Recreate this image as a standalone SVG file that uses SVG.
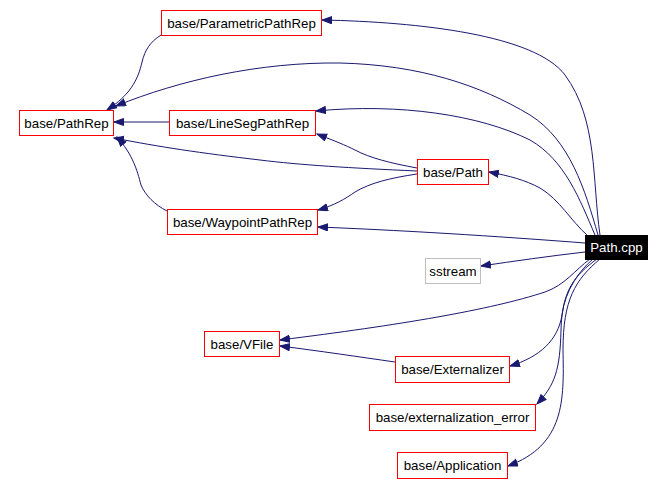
<svg xmlns="http://www.w3.org/2000/svg" width="664" height="483" viewBox="0 0 664 483">
<defs>
<marker id="arr" markerUnits="userSpaceOnUse" markerWidth="12" markerHeight="10" refX="10" refY="4" orient="auto">
<path d="M0.5,0.5 L10,4 L0.5,7.5 z" fill="#191970" stroke="#191970" stroke-width="1"/>
</marker>
<style>
.n rect{fill:#fff;stroke:#ff0000;stroke-width:1}
.n text{font-family:"Liberation Sans",Arial,sans-serif;font-size:13.3px;text-anchor:middle;fill:#000}
.g rect{stroke:#bfbfbf}
.b rect{fill:#000;stroke:#000}
.b text{fill:#fff}
.e path{fill:none;stroke:#191970;stroke-width:1;marker-end:url(#arr)}
</style>
</defs>
<rect width="664" height="483" fill="#fff"/>
<g id="edges" class="e">
<path d="M600,235 C592,180 598,120 565,75 C535,35 420,22 322,20"/>
<path d="M598,235 C585,190 570,140 530,115 C480,85 420,65 340,63 C260,62 180,80 116,106"/>
<path d="M595,235 C580,200 565,160 530,140 C480,115 400,103 316,111"/>
<path d="M417,168 C390,163 370,158 355,150 C345,145 335,141 317,134"/>
<path d="M417,171 C350,168 300,165 260,160 C200,153 160,147 114,138"/>
<path d="M417,174 C390,178 370,183 355,192 C345,199 335,205 318,210"/>
<path d="M588,236 C570,220 560,200 540,188 C525,180 510,176 489,172"/>
<path d="M585,243 C520,238 420,231 318,227"/>
<path d="M585,252 C550,256 515,261 481,266"/>
<path d="M590,259 C575,270 565,285 545,292 C490,310 400,325 280,340"/>
<path d="M395,362 C360,357 320,351 280,346"/>
<path d="M593,259 C580,270 565,290 562,315 C558,340 540,357 510,366"/>
<path d="M597,259 C575,275 562,290 561,330 C560,370 555,385 537,404"/>
<path d="M600,259 C575,280 563,300 563,350 C564,400 565,445 508,466"/>
<path d="M161,35 C150,42 145,50 142,62 C138,80 130,95 107,110"/>
<path d="M169,122 L114,122"/>
<path d="M167,211 C155,205 145,195 141,185 C137,170 133,155 117,137"/>
</g>
<g id="node_parametric" class="n"><rect x="161.5" y="10.5" width="160" height="25"/><text x="241.5" y="27.5">base/ParametricPathRep</text></g>
<g id="node_pathrep" class="n"><rect x="19.5" y="110.5" width="94" height="25"/><text x="66.5" y="127.5">base/PathRep</text></g>
<g id="node_lineseg" class="n"><rect x="169.5" y="110.5" width="146" height="25"/><text x="242.5" y="127.5">base/LineSegPathRep</text></g>
<g id="node_waypoint" class="n"><rect x="167.5" y="209.5" width="150" height="25"/><text x="242.5" y="226.5">base/WaypointPathRep</text></g>
<g id="node_path" class="n"><rect x="417.5" y="159.5" width="71" height="25"/><text x="453" y="176.5">base/Path</text></g>
<g id="node_pathcpp" class="n b"><rect x="585.5" y="235.5" width="62" height="24"/><text x="616.5" y="252">Path.cpp</text></g>
<g id="node_sstream" class="n g"><rect x="425.5" y="258.5" width="55" height="25"/><text x="453" y="275.5">sstream</text></g>
<g id="node_vfile" class="n"><rect x="204.5" y="331.5" width="75" height="25"/><text x="242" y="348.5">base/VFile</text></g>
<g id="node_externalizer" class="n"><rect x="395.5" y="356.5" width="114" height="26"/><text x="452.5" y="374">base/Externalizer</text></g>
<g id="node_exterror" class="n"><rect x="369.5" y="404.5" width="166" height="26"/><text x="452.5" y="422">base/externalization_error</text></g>
<g id="node_application" class="n"><rect x="397.5" y="452.5" width="110" height="26"/><text x="452.5" y="470">base/Application</text></g>
</svg>
